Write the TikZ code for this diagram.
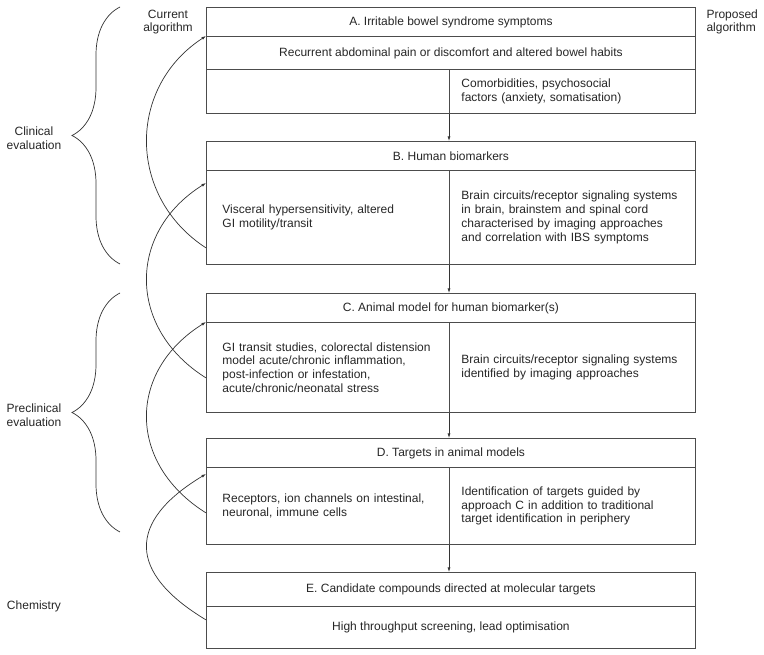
\documentclass[tikz,border=0pt]{standalone}
\usepackage{fontspec}
\setmainfont{Liberation Sans}
\usepackage{tikz}
\usetikzlibrary{arrows.meta}
\usetikzlibrary{decorations.pathreplacing}
\tikzset{every node/.style={font=\fontsize{12}{13.8}\selectfont, text=black!85},
 row/.style={draw=black!70, line width=0.9pt, minimum width=489pt, inner sep=0pt, anchor=north west},
 lcell/.style={draw=black!70, line width=0.9pt, minimum width=243pt, text width=211pt, inner xsep=16pt, align=left, anchor=north west},
 rcell/.style={draw=black!70, line width=0.9pt, minimum width=246pt, text width=222pt, inner xsep=12pt, align=left, anchor=north west},
 side/.style={align=center},
 arr/.style={-{Latex[length=4.5pt,width=3pt]}, line width=0.7pt, draw=black!80},
 bracket/.style={decorate, decoration={brace, amplitude=48pt}, line width=0.7pt, draw=black!80},
 }

\begin{document}
\begin{tikzpicture}[x=1pt, y=1pt]
        \useasboundingbox (0,0) rectangle (764,655);

        % A
        \node[row, minimum height=29pt] (Ah) at (206,648) {A. Irritable bowel syndrome symptoms};
        \node[row, minimum height=33pt] (Am) at (206,619) {Recurrent abdominal pain or discomfort and altered bowel habits};
        \node[lcell, minimum height=44pt] (Al) at (206,586) {};
        \node[rcell, minimum height=44pt] (Ar) at (449,586) {Comorbidities, psychosocial\\factors (anxiety, somatisation)};

        % B
        \node[row, minimum height=29pt] (Bh) at (206,514) {B. Human biomarkers};
        \node[lcell, minimum height=94pt] (Bl) at (206,485) {Visceral hypersensitivity, altered\\GI motility/transit};
        \node[rcell, minimum height=94pt] (Br) at (449,485) {Brain circuits/receptor signaling systems\\in brain, brainstem and spinal cord\\characterised by imaging approaches\\and correlation with IBS symptoms};

        % C
        \node[row, minimum height=29pt] (Ch) at (206,362) {C. Animal model for human biomarker(s)};
        \node[lcell, minimum height=90pt] (Cl) at (206,333) {GI transit studies, colorectal distension\\model acute/chronic inflammation,\\post-infection or infestation,\\acute/chronic/neonatal stress};
        \node[rcell, minimum height=90pt] (Cr) at (449,333) {Brain circuits/receptor signaling systems\\identified by imaging approaches};

        % D
        \node[row, minimum height=29pt] (Dh) at (206,217) {D. Targets in animal models};
        \node[lcell, minimum height=77pt] (Dl) at (206,188) {Receptors, ion channels on intestinal,\\neuronal, immune cells};
        \node[rcell, minimum height=77pt] (Dr) at (449,188) {Identification of targets guided by\\approach C in addition to traditional\\target identification in periphery};

        % E
        \node[row, minimum height=34pt] (Eh) at (206,83) {E. Candidate compounds directed at molecular targets};
        \node[row, minimum height=42pt] (Eb) at (206,49) {High throughput screening, lead optimisation};

        % proposed algorithm
        \draw[arr] (Ar.south west) -- (Ar.south west |- Bh.north);
        \draw[arr] (Br.south west) -- (Br.south west |- Ch.north);
        \draw[arr] (Cr.south west) -- (Cr.south west |- Dh.north);
        \draw[arr] (Dr.south west) -- (Dr.south west |- Eh.north);

        % current algorithm
        \draw[arr] ([yshift=17pt]Bl.south west) .. controls +(147:94) and +(213:94) .. (Am.north west);
        \draw[arr] ([yshift=35pt]Cl.south west) .. controls +(148:93) and +(212:93) .. ([yshift=-13pt]Bl.north west);
        \draw[arr] ([yshift=32pt]Dl.south west) .. controls +(148:93) and +(212:93) .. (Cl.north west);
        \draw[arr] ([yshift=29pt]Eb.south west) .. controls +(149:92) and +(211:92) .. ([yshift=-7pt]Dl.north west);

        % braces and labels
        \coordinate (clin1) at (120,391);
        \coordinate (clin2) at (120,648);
        \coordinate (pre1) at (120,123);
        \coordinate (pre2) at (120,362);
        \draw[bracket] (clin1) -- (clin2);
        \draw[bracket] (pre1) -- (pre2);

        \node[side] (clin) at (34,517) {Clinical\\evaluation};
        \node[side] (pre) at (34,240) {Preclinical\\evaluation};
        \node[side] (chem) at (34,49) {Chemistry};
        \node[side] (cur) at (168,633) {Current\\algorithm};
        \node[side, anchor=west, align=left] (prop) at (703,633) {Proposed\\algorithm};
    \end{tikzpicture}
\end{document}
